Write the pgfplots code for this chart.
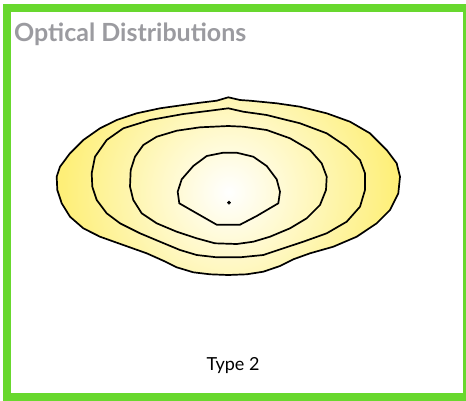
\documentclass[border=0pt]{standalone}
\usepackage{pgfplots}
\pgfplotsset{compat=1.18}
\usepackage{fontspec}
\setmainfont{Lato}
\definecolor{frame}{RGB}{104,216,46}
\definecolor{yl}{RGB}{254,239,120}
\definecolor{ttl}{RGB}{155,155,160}
\begin{document}
\begin{tikzpicture}
\begin{axis}[
  hide axis, scale only axis,
  width=466pt, height=400pt,
  xmin=0, xmax=466, ymin=0, ymax=400,
  y dir=reverse, clip=true, unbounded coords=jump,
]
% solid base colour beyond the gradient square
\addplot[draw=none, fill=yl] coordinates {(40,80) (420,80) (420,290) (40,290)} -- cycle;
% radial colour field (square box so the gradient stays circular)
\addplot[draw=none, shade, inner color=white, outer color=yl] coordinates {(62,25) (396,25) (396,359) (62,359)} -- cycle;
% white mask outside the outer contour
\addplot[draw=none, fill=white, even odd rule] coordinates {
(228.3,97.3) (240,100) (250,100.7) (276.7,103.3) (300,106.7) (326.7,113.3)
(350,121.7) (370,133.3) (386.7,150) (396.7,163.3) (400,176.7) (398.3,193.3)
(390,210) (376.7,223.3) (356.7,236.7) (333.3,246.7) (310,253.3) (293.3,259.3)
(280,266) (263.3,271.7) (246.7,274.3) (228.3,275) (210,274.3) (193.3,272.3)
(176.7,267.3) (163.3,260.7) (146.7,253.3) (123.3,245) (100,236.7) (83.3,228.3)
(70,216.7) (61.7,203.3) (57.3,190) (56.7,176.7) (60,166.7) (70,153.3)
(83.3,140) (100,128.3) (116.7,120) (136.7,113.3) (160,108.3) (183.3,105)
(200,102.7) (216.7,100.7) (228.3,97.3)
(0,nan)
(-5,-5) (471,-5) (471,405) (-5,405) (-5,-5)
};
% outer contour
\addplot[draw=black, line width=1.7pt] coordinates {
(228.3,97.3) (240,100) (250,100.7) (276.7,103.3) (300,106.7) (326.7,113.3)
(350,121.7) (370,133.3) (386.7,150) (396.7,163.3) (400,176.7) (398.3,193.3)
(390,210) (376.7,223.3) (356.7,236.7) (333.3,246.7) (310,253.3) (293.3,259.3)
(280,266) (263.3,271.7) (246.7,274.3) (228.3,275) (210,274.3) (193.3,272.3)
(176.7,267.3) (163.3,260.7) (146.7,253.3) (123.3,245) (100,236.7) (83.3,228.3)
(70,216.7) (61.7,203.3) (57.3,190) (56.7,176.7) (60,166.7) (70,153.3)
(83.3,140) (100,128.3) (116.7,120) (136.7,113.3) (160,108.3) (183.3,105)
(200,102.7) (216.7,100.7) (228.3,97.3)
} -- cycle;
% second contour
\addplot[draw=black, line width=1.7pt] coordinates {
(228.3,108.3) (243.3,111.7) (266.7,115) (300,123.3) (326.7,133.3) (346.7,146.7)
(360,160) (365,173.3) (365,190) (360,206.7) (346.7,221.7) (326.7,233.3)
(303.3,241.7) (283.3,248.3) (263.3,255) (240,257.3) (216.7,257.3) (196.7,255)
(180,250) (160,241.7) (140,233.3) (120,223.3) (106.7,213.3) (96.7,200)
(92.3,186.7) (91.7,173.3) (95,156.7) (106.7,140) (123.3,128.3) (150,120)
(183.3,114) (210,110.7) (228.3,108.3)
} -- cycle;
% third contour
\addplot[draw=black, line width=1.7pt] coordinates {
(228.3,126) (243.3,126.7) (266.7,130) (290,138.3) (310,150) (321.7,163.3)
(326.7,176.7) (326,190) (320,205) (306.7,218.3) (290,228.3) (270,236.7)
(253.3,241.7) (236.7,244) (215,243.3) (196.7,238.3) (176.7,231.7) (156.7,223.3)
(141.7,213.3) (133.3,200) (130,186.7) (130.7,170) (135,156.7) (143.3,145)
(156.7,136.7) (176.7,130.7) (200,127.3) (228.3,126)
} -- cycle;
% inner contour
\addplot[draw=black, line width=1.7pt] coordinates {
(223.3,152.7) (206.7,156) (193.3,166) (181.7,179.3) (177.7,191.7) (179.3,203.3)
(196.7,213.3) (216.7,224.7) (240,224.7) (256.7,216) (278.3,203.3) (280,191.7)
(276.7,179.3) (266.7,166) (253.3,156.7) (236.7,152.7) (223.3,152.7)
} -- cycle;
% centre point
\addplot[only marks, mark=*, mark size=1.7pt, black] coordinates {(229,202.7)};
% frame
\draw[frame, line width=8pt] (axis cs:7,7.5) rectangle (axis cs:466.7,396.5);
\node[anchor=base west, inner sep=0pt, text=ttl, font=\bfseries\fontsize{25}{29}\selectfont] at (axis cs:14,41.5) {Optical Distributions};
\node[anchor=base, inner sep=0pt, text=black, font=\fontsize{18}{21}\selectfont] at (axis cs:233,370.5) {Type 2};
\end{axis}
\pgfresetboundingbox
\useasboundingbox (0,0) rectangle (466pt,400pt);
\end{tikzpicture}
\end{document}
